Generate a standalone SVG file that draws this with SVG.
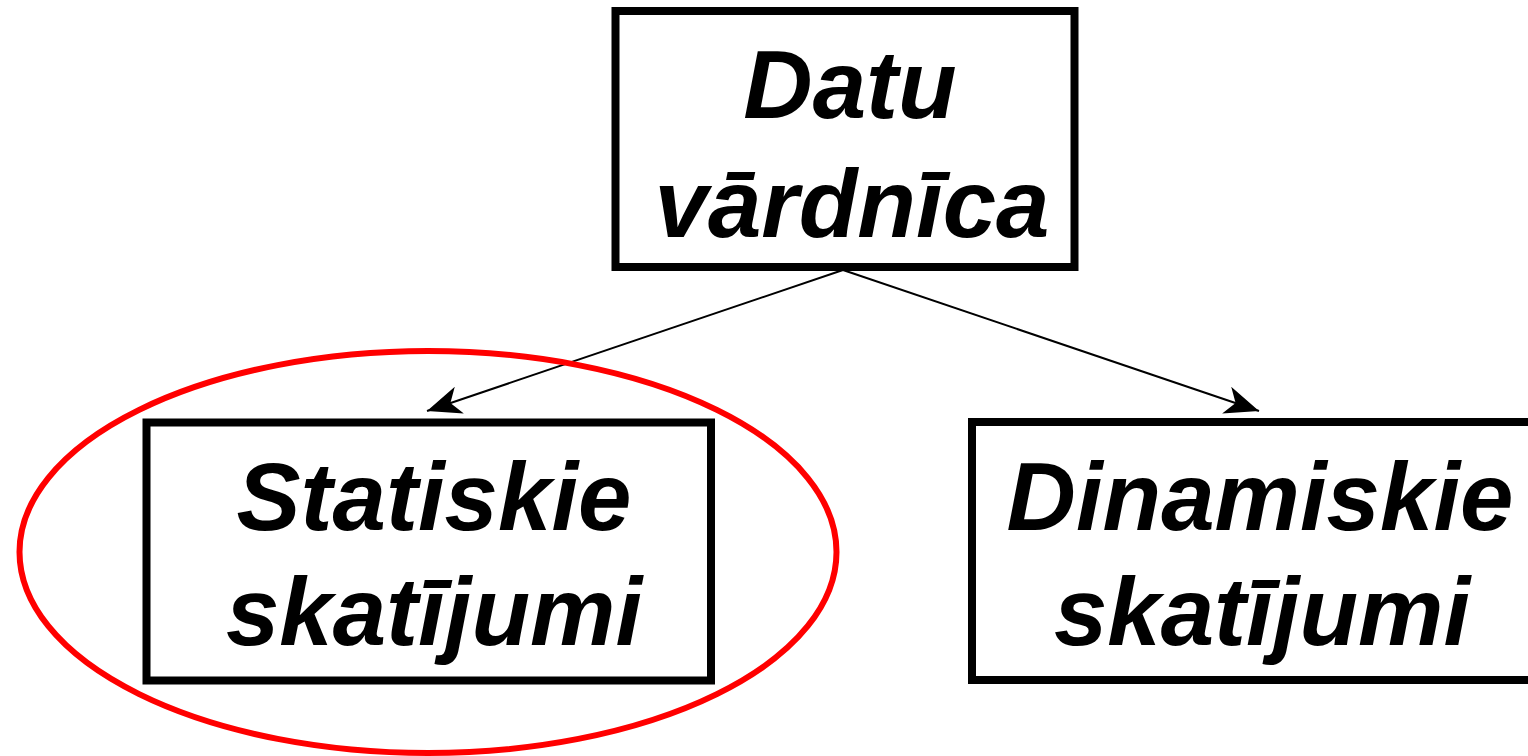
<svg xmlns="http://www.w3.org/2000/svg" width="1528" height="756" viewBox="0 0 1528 756">
  <style>
    .box { fill: #ffffff; stroke: #000000; stroke-width: 8; }
    .label { font-family: "Liberation Sans", Arial, sans-serif; font-weight: bold; font-style: italic; font-size: 96px; fill: #000000; text-anchor: middle; }
    .link { stroke: #000000; stroke-width: 2; fill: none; marker-end: url(#arrow); }
  </style>
  <defs>
    <marker id="arrow" markerUnits="userSpaceOnUse" markerWidth="40" markerHeight="40" viewBox="-32 -16 34 32" refX="0" refY="0" orient="auto">
      <path d="M0,0 L-29,-12 L-21,0 L-29,12 Z" fill="#000000"/>
    </marker>
  </defs>
  <rect width="1528" height="756" fill="#ffffff"/>

  <g id="connectors">
    <line class="link" x1="843" y1="270" x2="427" y2="411"/>
    <line class="link" x1="843" y1="270" x2="1259" y2="411"/>
  </g>

  <g id="node-datu-vardnica">
    <rect class="box" x="615.5" y="11" width="459" height="256"/>
    <text class="label" x="850" y="118">Datu</text>
    <text class="label" x="852" y="237">vārdnīca</text>
  </g>

  <g id="node-statiskie">
    <rect class="box" x="146.5" y="422.5" width="564.5" height="258"/>
    <text class="label" x="434" y="530">Statiskie</text>
    <text class="label" x="434" y="645">skatījumi</text>
  </g>

  <g id="node-dinamiskie">
    <rect class="box" x="972" y="422" width="564.5" height="258"/>
    <text class="label" x="1260" y="530">Dinamiskie</text>
    <text class="label" x="1262" y="645">skatījumi</text>
  </g>

  <g id="highlight">
    <ellipse cx="428" cy="552" rx="408.5" ry="201" fill="none" stroke="#ff0000" stroke-width="6"/>
  </g>
</svg>
